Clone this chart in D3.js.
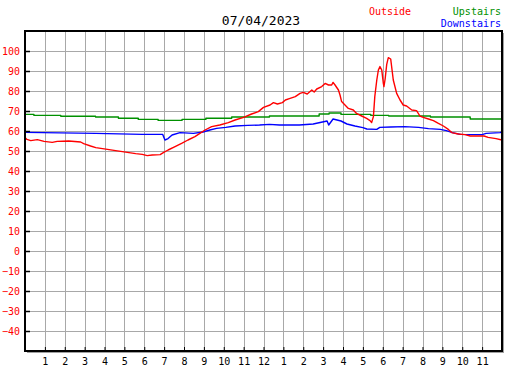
<!DOCTYPE html>
<html><head><meta charset="utf-8">
<script src="https://cdn.jsdelivr.net/npm/d3@7"></script>
<style>
html,body{margin:0;padding:0;background:#fff;}
svg{display:block;}
text{font-family:"DejaVu Sans Mono",monospace;}
</style>
</head><body>
<svg id="chart" width="527" height="370"></svg>
<script>
const title = "07/04/2023";
const seriesNames = ["Outside", "Upstairs", "Downstairs"];
const seriesColors = ["#ff0000", "#009000", "#0000ff"];
const yTicks = [-40, -30, -20, -10, 0, 10, 20, 30, 40, 50, 60, 70, 80, 90, 100];
const xTicks = [1,2,3,4,5,6,7,8,9,10,11,12,13,14,15,16,17,18,19,20,21,22,23];
const xTickLabels = ["1","2","3","4","5","6","7","8","9","10","11","12","1","2","3","4","5","6","7","8","9","10","11"];

const outsideHours = [0,0.1,0.29,0.62,0.96,1.37,1.62,2.2,2.8,2.95,3.3,3.56,3.9,4.23,4.56,4.9,5.23,5.57,5.9,6.15,6.4,6.8,6.96,7.2,7.55,7.88,8.2,8.55,8.8,9.06,9.39,9.8,10.23,10.57,11.0,11.4,11.74,12.0,12.33,12.5,12.7,12.95,13.1,13.3,13.6,13.84,14.0,14.2,14.43,14.55,14.68,14.93,15.1,15.27,15.43,15.5,15.6,15.77,15.85,15.93,16.1,16.27,16.52,16.68,16.94,17.19,17.36,17.44,17.53,17.6,17.7,17.78,17.86,17.95,18.03,18.06,18.12,18.2,18.28,18.4,18.53,18.7,18.87,19.03,19.2,19.46,19.7,19.87,20.04,20.3,20.55,20.8,21.05,21.3,21.47,21.8,22.14,22.4,23.1,23.3,23.7,24];
const outsideTemps = [56.8,55.8,55.2,55.7,54.8,54.3,54.8,55,54.5,53.7,52.5,51.7,51.2,50.7,50.2,49.7,49.2,48.7,48.3,47.7,48.0,48.2,49.2,50.5,52.2,53.8,55.5,57.2,58.8,60.5,62.2,63,64.2,65.5,66.8,68.5,69.7,71.8,73,74.2,73.5,74.2,75.5,76.2,77.2,78.8,79.3,78.5,80.5,79.5,81,82.2,83.8,83,83,84.3,83,80.5,78,74.7,73,71.3,70.5,68.8,67.5,66.3,65.2,64.2,67.2,77.2,85.5,90.5,92.2,90.5,83.8,82.2,86,93.3,96.7,96,85.5,78.8,75.5,73,72.5,70.5,70.2,67.5,66.8,66,65.2,63.8,62.5,60.8,59.2,58.5,58.2,57.5,57.5,56.8,56.2,55.5];

const upstairsHours = [0,0.45,1.8,3.55,4.7,5.7,6.7,7.9,9.1,10.4,12.3,14.8,15.3,15.9,17.4,18.3,20.4,22.4,24];
const upstairsTemps = [68.3,67.8,67.4,67,66.4,65.8,65.3,65.8,66.4,67,67.5,68.5,69,68.3,67.8,67.5,67,66,66];

const downstairsHours = [0,3.56,5.9,6.93,7.04,7.2,7.4,7.8,8.47,8.96,9.3,9.64,10.1,10.57,11.2,11.8,12.3,12.8,13.8,14.5,15.2,15.28,15.5,15.9,16.2,16.6,17.0,17.2,17.7,17.85,18.4,19.1,19.8,20.3,20.9,21.2,21.5,21.9,23.0,23.2,23.9,24];
const downstairsTemps = [59.3,58.8,58.3,58.3,55.5,56.2,58,59.2,58.8,59.5,60.5,61.3,61.8,62.5,62.8,63,63.3,63,63,63.5,65,63,66,65,63.5,62.5,61.7,61,60.8,61.8,62,62.2,61.8,61.2,60.8,60.2,59.2,58.3,58.2,58.8,59.2,59.5];

const svg = d3.select("#chart");
const L = 25, R = 502, T = 31, B = 351;
const x = d3.scaleLinear().domain([0, 24]).range([L, R]);
const y = d3.scaleLinear().domain([-50, 110]).range([B, T]);

// shadow
svg.append("rect").attr("x", L + 2).attr("y", T + 2).attr("width", R - L).attr("height", B - T)
  .attr("fill", "#a0a0a0");
svg.append("rect").attr("x", L).attr("y", T).attr("width", R - L).attr("height", B - T)
  .attr("fill", "#fff");

// grid
const grid = svg.append("g").attr("stroke", "#a8a8a8").attr("stroke-width", 1).attr("shape-rendering", "crispEdges");
grid.selectAll("line.v").data(xTicks).join("line")
  .attr("x1", d => Math.round(x(d)) + 0.5).attr("x2", d => Math.round(x(d)) + 0.5)
  .attr("y1", T).attr("y2", B);
grid.selectAll("line.h").data(yTicks).join("line")
  .attr("y1", d => y(d) + 0.5).attr("y2", d => y(d) + 0.5)
  .attr("x1", L).attr("x2", R);

// series
function drawSeries(hours, temps, color, curve) {
  const pts = hours.map((h, i) => [h, temps[i]]);
  svg.append("path").datum(pts)
    .attr("fill", "none").attr("stroke", color).attr("stroke-width", 1.4)
    .attr("stroke-linejoin", "round")
    .attr("d", d3.line().x(d => x(d[0])).y(d => y(d[1])).curve(curve));
}
drawSeries(upstairsHours, upstairsTemps, seriesColors[1], d3.curveStepAfter);
drawSeries(downstairsHours, downstairsTemps, seriesColors[2], d3.curveLinear);
drawSeries(outsideHours, outsideTemps, seriesColors[0], d3.curveLinear);

// frame
svg.append("rect").attr("x", L).attr("y", T).attr("width", R - L).attr("height", B - T)
  .attr("fill", "none").attr("stroke", "#000").attr("stroke-width", 2);

// axes
const yAxis = d3.axisLeft(y).tickValues(yTicks).tickSizeInner(-5).tickSizeOuter(0).tickPadding(5);
const gy = svg.append("g").attr("transform", `translate(${L},0)`).call(yAxis);
gy.select(".domain").remove();
gy.selectAll(".tick line").attr("stroke", "#000").attr("stroke-width", 1.5);
gy.selectAll(".tick text").attr("fill", "#ff0000").attr("font-size", 10)
  .attr("font-family", "DejaVu Sans Mono, monospace");

const xAxis = d3.axisBottom(x).tickValues(xTicks).tickFormat((d, i) => xTickLabels[i])
  .tickSizeInner(-4).tickSizeOuter(0).tickPadding(7);
const gx = svg.append("g").attr("transform", `translate(0,${B})`).call(xAxis);
gx.select(".domain").remove();
gx.selectAll(".tick line").attr("stroke", "#000").attr("stroke-width", 1);
gx.selectAll(".tick text").attr("fill", "#000").attr("font-size", 10)
  .attr("font-family", "DejaVu Sans Mono, monospace");

// title and legend
svg.append("text").attr("x", 261).attr("y", 25).attr("text-anchor", "middle")
  .attr("font-size", 13).attr("fill", "#000").text(title);
svg.append("text").attr("x", 369).attr("y", 15).attr("font-size", 10)
  .attr("fill", seriesColors[0]).text(seriesNames[0]);
svg.append("text").attr("x", 501).attr("y", 15).attr("text-anchor", "end").attr("font-size", 10)
  .attr("fill", seriesColors[1]).text(seriesNames[1]);
svg.append("text").attr("x", 501).attr("y", 27).attr("text-anchor", "end").attr("font-size", 10)
  .attr("fill", seriesColors[2]).text(seriesNames[2]);
</script>
</body></html>
